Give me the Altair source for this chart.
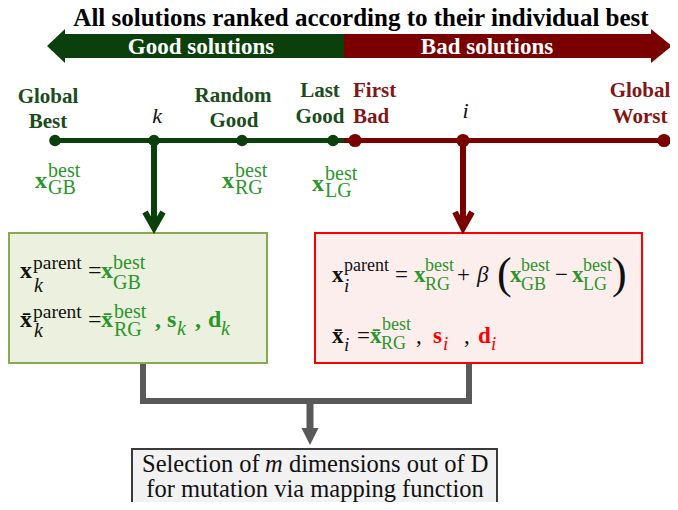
import altair as alt
import pandas as pd

FONT = "Liberation Serif"
W, H = 662, 494
xs = alt.Scale(domain=[8, 670], nice=False, zero=False)
ys = alt.Scale(domain=[502, 8], nice=False, zero=False)

DARK_GREEN = "#0b3f0b"
DARK_RED = "#7a0000"
LABEL_GREEN = "#1c4c1c"
LABEL_RED = "#851515"
FORM_GREEN = "#2a962a"
BRIGHT_RED = "#ff0000"
GRAY = "#595959"
BLACK = "#111111"

# ---------------- data ----------------
title = "All solutions ranked according to their individual best"
band_labels = ["Good solutions", "Bad solutions"]
band_colors = [DARK_GREEN, DARK_RED]
band_x = [65, 344]
band_x2 = [344, 652]

node_x = [55, 154, 242, 333, 355, 463, 664]
node_color = [DARK_GREEN] * 4 + [DARK_RED] * 3
node_size = [135] * 4 + [175] * 3

line_x = [55, 344]
line_x2 = [344, 664]
line_color = [DARK_GREEN, DARK_RED]

stem_x = [154, 463]
stem_color = [DARK_GREEN, DARK_RED]

boxes_x = [9, 315, 132]
boxes_x2 = [267, 642, 497]
boxes_y = [233, 233, 449]
boxes_y2 = [363, 363, 508]
boxes_fill = ["#ebf1de", "#fdeeee", "#f2f2f2"]
boxes_stroke = ["#8aa84f", "#ff0000", "#3a3a3a"]

# text rows: text, x, y(baseline), size, color, weight, style, align
rows = []
def T(text, x, y, size, color=BLACK, weight="normal", style="normal", align="left"):
    rows.append(dict(text=text, x=x, y=y, size=size, color=color,
                     weight=weight, style=style, align=align))

T(title, 361, 26, 25, "#000000", "bold", align="center")
T(band_labels[0], 201, 54, 23, "#ffffff", "bold", align="center")
T(band_labels[1], 487, 54, 23, "#ffffff", "bold", align="center")

# node labels
T("Global", 48, 103, 21, LABEL_GREEN, "bold", align="center")
T("Best", 48, 128, 21, LABEL_GREEN, "bold", align="center")
T("Random", 233, 102, 21, LABEL_GREEN, "bold", align="center")
T("Good", 234, 127, 21, LABEL_GREEN, "bold", align="center")
T("Last", 320, 97, 21, LABEL_GREEN, "bold", align="center")
T("Good", 320, 123, 21, LABEL_GREEN, "bold", align="center")
T("First", 353, 97, 21, LABEL_RED, "bold")
T("Bad", 353, 123, 21, LABEL_RED, "bold")
T("Global", 640, 97, 21, LABEL_RED, "bold", align="center")
T("Worst", 640, 123, 21, LABEL_RED, "bold", align="center")
T("k", 157, 123, 22, BLACK, style="italic", align="center")
T("i", 465.5, 118, 22, BLACK, style="italic", align="center")

# formula labels under nodes
for (x0, base, sub) in [(35, 188, "GB"), (222, 188, "RG"), (312, 191, "LG")]:
    T("x", x0, base, 24, FORM_GREEN, "bold")
    T("best", x0 + 13, base - 11, 20, FORM_GREEN)
    T(sub, x0 + 13, base + 6, 20, FORM_GREEN)

# green box
T("x", 20, 278, 24, BLACK, "bold")
T("parent", 33, 269, 19.5, BLACK)
T("k", 34, 292, 20, BLACK, style="italic")
T("=", 88, 278, 24, BLACK)
T("x", 101, 278, 24, FORM_GREEN, "bold")
T("best", 113, 269, 20, FORM_GREEN)
T("GB", 113, 289, 20, FORM_GREEN)
T("x\u0304", 20, 327, 24, BLACK, "bold")
T("parent", 33, 318, 19.5, BLACK)
T("k", 34, 337, 20, BLACK, style="italic")
T("=", 88, 327, 24, BLACK)
T("x\u0304", 101, 327, 24, FORM_GREEN, "bold")
T("best", 114, 318, 20, FORM_GREEN)
T("RG", 114, 336, 20, FORM_GREEN)
T(",", 155, 327, 24, FORM_GREEN, "bold")
T("s", 167, 327, 24, FORM_GREEN, "bold")
T("k", 177, 335, 20, FORM_GREEN, style="italic")
T(",", 195, 327, 24, FORM_GREEN, "bold")
T("d", 208, 327, 24, FORM_GREEN, "bold")
T("k", 221, 335, 20, FORM_GREEN, style="italic")

# red box
T("x", 332, 282, 23, BLACK, "bold")
T("parent", 344, 271, 18, BLACK)
T("i", 344, 292, 19, BLACK, style="italic")
T("=", 395, 282, 23, BLACK)
T("x", 414, 282, 23, FORM_GREEN, "bold")
T("best", 425, 271, 18, FORM_GREEN)
T("RG", 425, 290, 18, FORM_GREEN)
T("+", 457, 282, 23, BLACK)
T("\u03b2", 477, 282, 23, BLACK, style="italic")
T("(", 497, 288, 44, BLACK)
T("x", 510, 282, 23, FORM_GREEN, "bold")
T("best", 521, 271, 18, FORM_GREEN)
T("GB", 521, 290, 18, FORM_GREEN)
T("\u2212", 555, 282, 23, BLACK)
T("x", 572, 282, 23, FORM_GREEN, "bold")
T("best", 583, 271, 18, FORM_GREEN)
T("LG", 583, 290, 18, FORM_GREEN)
T(")", 612, 288, 44, BLACK)
T("x\u0304", 332, 343, 23, BLACK, "bold")
T("i", 344, 351, 19, BLACK, style="italic")
T("=", 357, 343, 23, BLACK)
T("x\u0304", 370, 343, 23, FORM_GREEN, "bold")
T("best", 382, 330, 18, FORM_GREEN)
T("RG", 381, 349, 18, FORM_GREEN)
T(",", 416, 343, 23, BLACK)
T("s", 433, 343, 23, BRIGHT_RED, "bold")
T("i", 443, 350, 19, BRIGHT_RED, style="italic")
T(",", 464, 343, 23, BLACK)
T("d", 478, 343, 23, BRIGHT_RED, "bold")
T("i", 491, 350, 19, BRIGHT_RED, style="italic")

# bottom box
T("Selection of", 142, 472, 24.5, BLACK)
T("m", 265, 472, 24.5, BLACK, style="italic")
T("dimensions out of D", 289, 472, 24.5, BLACK)
T("for mutation via mapping function", 315, 497, 24.5, BLACK, align="center")

texts = pd.DataFrame(rows)

# ---------------- helpers ----------------
def X(f="x"):
    return alt.X(f"{f}:Q", scale=xs, axis=None)

def Y(f="y"):
    return alt.Y(f"{f}:Q", scale=ys, axis=None)

def C(f="c"):
    return alt.Color(f"{f}:N", scale=None, legend=None)

layers = []

# big double arrow body
band_df = pd.DataFrame(dict(x=band_x, x2=band_x2, y=[34, 34], y2=[58, 58], c=band_colors))
layers.append(alt.Chart(band_df).mark_rect().encode(
    x=X(), x2=alt.X2("x2:Q"), y=Y(), y2=alt.Y2("y2:Q"), color=C()))

# arrow heads (triangles as areas)
head_df = pd.DataFrame(dict(
    x=[47, 65, 651, 672], y=[46, 29, 29, 46], y2=[46, 63, 63, 46],
    c=[DARK_GREEN, DARK_GREEN, DARK_RED, DARK_RED]))
layers.append(alt.Chart(head_df).mark_area(interpolate="linear", opacity=1).encode(
    x=X(), y=Y(), y2=alt.Y2("y2:Q"), color=C()))

# boxes
box_df = pd.DataFrame(dict(x=boxes_x, x2=boxes_x2, y=boxes_y, y2=boxes_y2,
                           f=boxes_fill, s=boxes_stroke))
layers.append(alt.Chart(box_df).mark_rect(strokeWidth=2).encode(
    x=X(), x2=alt.X2("x2:Q"), y=Y(), y2=alt.Y2("y2:Q"),
    fill=alt.Fill("f:N", scale=None), stroke=alt.Stroke("s:N", scale=None)))

# timeline
line_df = pd.DataFrame(dict(x=line_x, x2=line_x2, y=[140.5, 140.5], c=line_color))
layers.append(alt.Chart(line_df).mark_rule(strokeWidth=5).encode(
    x=X(), x2=alt.X2("x2:Q"), y=Y(), color=C()))

# stems
stem_df = pd.DataFrame(dict(x=stem_x, y=[140, 140], y2=[229, 229], c=stem_color))
layers.append(alt.Chart(stem_df).mark_rule(strokeWidth=6).encode(
    x=X(), y=Y(), y2=alt.Y2("y2:Q"), color=C()))

# chevron heads
chev_df = pd.DataFrame(dict(
    x=[145, 154, 163, 455, 463, 472],
    y=[212, 228, 212, 212, 228, 212],
    o=[0, 1, 2, 0, 1, 2],
    g=["a", "a", "a", "b", "b", "b"],
    c=[DARK_GREEN] * 3 + [DARK_RED] * 3))
layers.append(alt.Chart(chev_df).mark_line(strokeWidth=6, strokeJoin="miter", strokeCap="butt").encode(
    x=X(), y=Y(), color=C(), detail="g:N", order="o:Q"))

# nodes
node_df = pd.DataFrame(dict(x=node_x, y=[140.5] * 7, c=node_color, s=node_size))
layers.append(alt.Chart(node_df).mark_circle(opacity=1).encode(
    x=X(), y=Y(), color=C(), size=alt.Size("s:Q", scale=None)))

# gray connector
conn_df = pd.DataFrame(dict(x=[143, 143, 469, 469], y=[364, 401, 401, 364], o=[0, 1, 2, 3]))
layers.append(alt.Chart(conn_df).mark_line(strokeWidth=6, color=GRAY, strokeJoin="miter").encode(
    x=X(), y=Y(), order="o:Q"))
mid_df = pd.DataFrame(dict(x=[310], y=[401], y2=[430]))
layers.append(alt.Chart(mid_df).mark_rule(strokeWidth=7, color=GRAY).encode(
    x=X(), y=Y(), y2=alt.Y2("y2:Q")))
tri_df = pd.DataFrame(dict(y=[428, 445], x=[301.5, 310], x2=[318.5, 310]))
layers.append(alt.Chart(tri_df).mark_area(orient="horizontal", color=GRAY, interpolate="linear").encode(
    y=Y(), x=X(), x2=alt.X2("x2:Q")))

# texts
for (w, s, a), g in texts.groupby(["weight", "style", "align"]):
    layers.append(alt.Chart(g).mark_text(font=FONT, fontWeight=w, fontStyle=s, align=a,
                                         baseline="alphabetic").encode(
        x=X(), y=Y(), text="text:N", size=alt.Size("size:Q", scale=None), color=C("color")))

chart = alt.layer(*layers).properties(
    width=W, height=H, padding=0, autosize="none", background="white"
).configure_view(stroke=None)

chart.save("out.html", embed_options={"renderer": "svg", "actions": False})
